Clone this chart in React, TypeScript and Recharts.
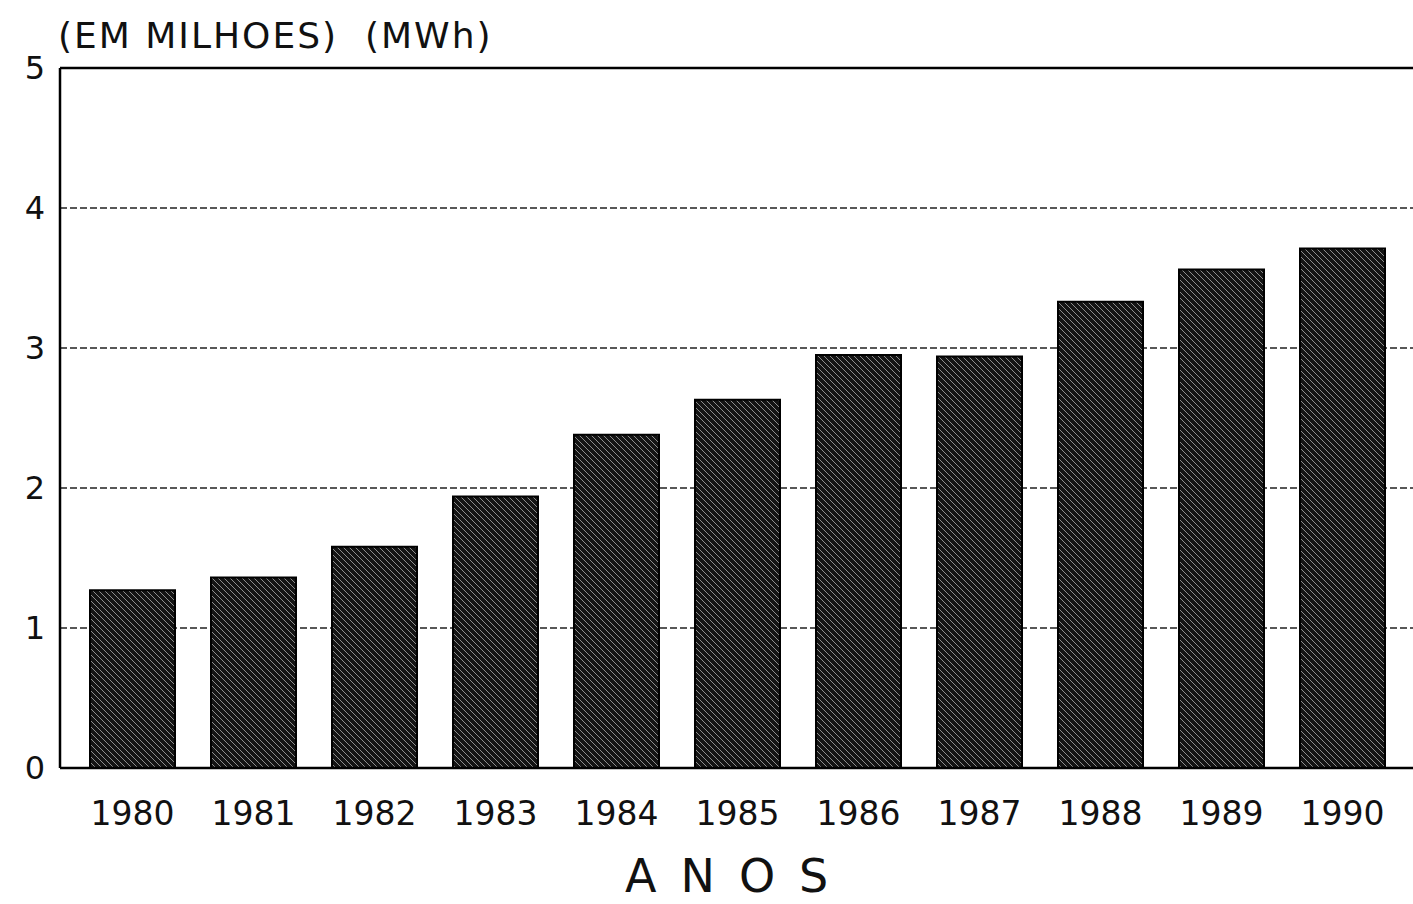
import { BarChart, Bar, XAxis, YAxis, CartesianGrid, ReferenceLine } from 'recharts';

const YEARS = ['1980', '1981', '1982', '1983', '1984', '1985', '1986', '1987', '1988', '1989', '1990'];
const CONSUMO = [1.27, 1.36, 1.58, 1.94, 2.38, 2.63, 2.95, 2.94, 3.33, 3.56, 3.71];
const Y_TICKS = [0, 1, 2, 3, 4, 5];

const data = YEARS.map((ano, i) => ({ ano, valor: CONSUMO[i] }));

const FONT = '"DejaVu Sans", Verdana, sans-serif';

export default function App() {
  return (
    <div style={{ position: 'absolute', left: 0, top: 0, width: 1430, height: 904, background: '#fff', overflow: 'hidden' }}>
      <div style={{
        position: 'absolute', left: 58, top: 18, fontFamily: FONT, fontSize: 36, lineHeight: 1,
        letterSpacing: 2, color: '#111', whiteSpace: 'pre',
      }}>
        {'(EM MILHOES)  (MWh)'}
      </div>
      <div style={{
        position: 'absolute', left: 625, top: 853, fontFamily: FONT, fontSize: 46, lineHeight: 1,
        letterSpacing: 24, color: '#111', whiteSpace: 'pre',
      }}>
        ANOS
      </div>
      <BarChart
        width={1430}
        height={904}
        data={data}
        margin={{ top: 68, right: 0, left: 0, bottom: 0 }}
        barCategoryGap={0}
      >
        <defs>
          <pattern id="hatch" width="6" height="6" patternUnits="userSpaceOnUse">
            <rect width="6" height="6" fill="#141414" />
            <path d="M-1,-1 L7,7 M-1,5 L1,7 M5,-1 L7,1" stroke="#8c8c8c" strokeWidth="1" />
          </pattern>
        </defs>
        <CartesianGrid vertical={false} horizontal strokeDasharray="7 3" stroke="#222" strokeWidth={1.5} />
        <XAxis
          dataKey="ano"
          height={136}
          padding={{ left: 12, right: 27 }}
          tickLine={false}
          axisLine={{ stroke: '#000', strokeWidth: 2.5 }}
          tickMargin={28}
          tick={{ fontSize: 33, fill: '#111', fontFamily: FONT }}
          interval={0}
        />
        <YAxis
          width={60}
          domain={[0, 5]}
          ticks={Y_TICKS}
          tickLine={false}
          axisLine={{ stroke: '#000', strokeWidth: 2.5 }}
          tickMargin={9}
          tick={{ fontSize: 32, fill: '#111', fontFamily: FONT }}
        />
        <ReferenceLine y={5} stroke="#000" strokeWidth={2.5} />
        <Bar dataKey="valor" fill="url(#hatch)" stroke="#000" strokeWidth={2} barSize={85} isAnimationActive={false} />
      </BarChart>
    </div>
  );
}
